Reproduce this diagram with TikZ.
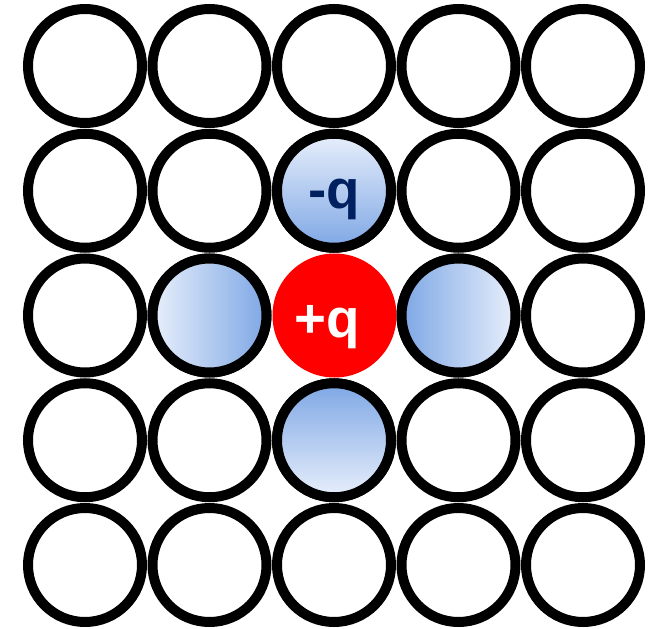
\documentclass[tikz,border=0pt]{standalone}
\usepackage{fontspec}
\setmainfont{Liberation Sans}
\definecolor{lightb}{RGB}{232,239,251}
\definecolor{darkb}{RGB}{126,167,229}
\definecolor{navy}{RGB}{0,32,96}
\begin{document}
\begin{tikzpicture}[x=0.75pt,y=-0.75pt,
  ring/.style={circle, draw=black, line width=7.5pt, minimum size=85.5pt, inner sep=0pt, fill=white},
  charge/.style={circle, fill=red, minimum size=93pt, inner sep=0pt},
  lbl/.style={font=\bfseries\fontsize{41}{41}\selectfont, anchor=base, inner sep=0pt}]
\useasboundingbox (0,0) rectangle (651,629);
\foreach \i/\x in {1/85,2/209.5,3/334,4/458.5,5/583}{
  \foreach \j/\y in {1/66,2/190.75,3/315.5,4/440.25,5/565}{
    \ifnum\i=3 \ifnum\j=3 \else
      \node[ring] (c\i\j) at (\x,\y) {};
    \fi\else
      \node[ring] (c\i\j) at (\x,\y) {};
    \fi
  }
}
\node[ring, top color=lightb, bottom color=darkb] (n) at (334,190.75) {};
\node[ring, top color=darkb, bottom color=lightb] (s) at (334,440.25) {};
\node[ring, left color=lightb, right color=darkb] (w) at (209.5,315.5) {};
\node[ring, left color=darkb, right color=lightb] (e) at (458.5,315.5) {};
\node[charge] (p) at (334.5,315.5) {};
\node[lbl, text=navy] (lm) at (334.5,208) {-q};
\node[lbl, text=white] (lp) at (327,337) {+q};
\end{tikzpicture}
\end{document}
